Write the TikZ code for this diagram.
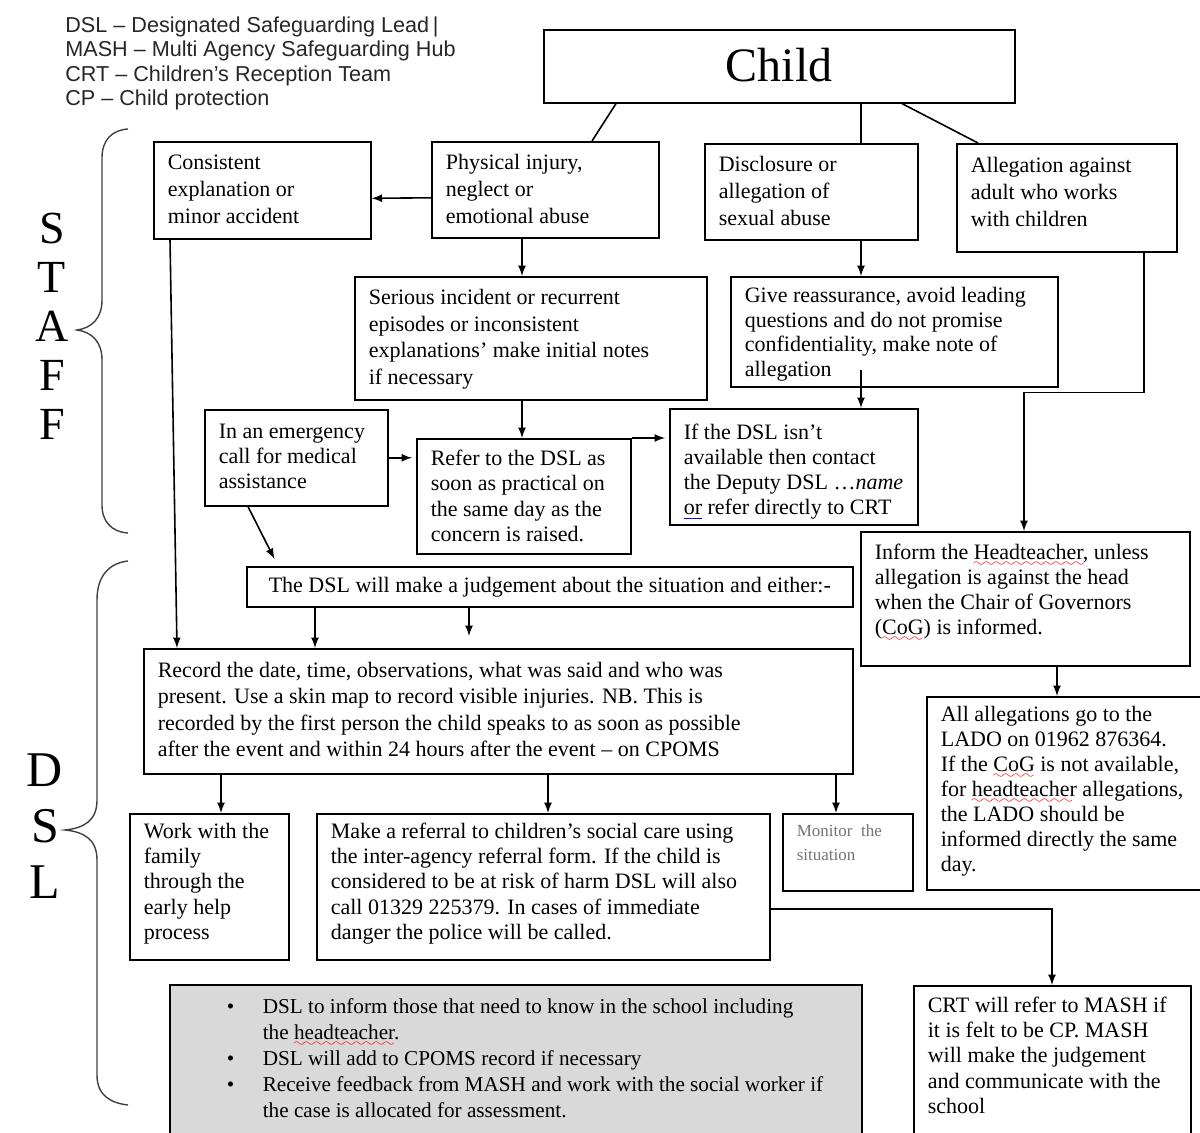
\documentclass[tikz,border=0pt]{standalone}
\usepackage{fontspec}
\setmainfont{Liberation Serif}
\newfontfamily\keyfont{Liberation Sans}

\newcommand{\boxtext}[5][1.5pt]{\parbox[t][#3][t]{#2}{\fontsize{11}{#4}\selectfont\raggedright
    \rule{0pt}{\dimexpr0.7\baselineskip+#1\relax}#5}}
\font\spellfont=lasy6
\newcommand\spellwave[1]{\setbox0\hbox{#1}\leavevmode
    \rlap{\lower3.5pt\hbox to\wd0{\color{red}\leaders\hbox{\spellfont\char58}\hfill}}\box0\relax}
\newcommand\grammarline[1]{\setbox0\hbox{#1}\leavevmode
    \rlap{\color{blue}\rule[-2.5pt]{\wd0}{0.6pt}}\box0\relax}

\begin{document}
\begin{tikzpicture}[x=0.5pt,y=-0.5pt,
    box/.style={draw, line width=0.8pt, anchor=north west, inner xsep=7pt, inner ysep=3pt},
    link/.style={line width=0.8pt},
    arr/.style={->,>=latex, line width=0.8pt},
    brace/.style={line width=0.7pt, black!75}]

    \useasboundingbox (0,0) rectangle (1200,1133);

    % abbreviations
    \node[anchor=north west, align=left, inner sep=0pt,
        font=\keyfont\fontsize{10.8}{12.25}\selectfont, black!85] (key) at (65,16)
        {DSL – Designated Safeguarding Lead\,|\\ MASH – Multi Agency Safeguarding Hub\\
         CRT – Children’s Reception Team\\ CP – Child protection};

    % side labels and braces
    \node[font=\fontsize{23}{24.5}\selectfont, align=center] (staff) at (52,326) {S\\T\\A\\F\\F};
    \node[font=\fontsize{25}{28}\selectfont, align=center] (dsl) at (45,826) {D\\S\\L};
    \draw[brace] (128,129) .. controls (112,130) and (102,140) .. (102,158) -- (102,300)
        .. controls (102,318) and (92,328) .. (77,330) .. controls (92,332) and (102,342) .. (102,360)
        -- (102,505) .. controls (102,522) and (112,532) .. (128,533);
    \draw[brace] (128,561) .. controls (110,563) and (97,575) .. (97,600) -- (97,800)
        .. controls (97,820) and (85,828) .. (65,830) .. controls (85,832) and (97,840) .. (97,860)
        -- (97,1075) .. controls (97,1095) and (110,1103) .. (128,1105);

    % staff boxes
    \node[box, minimum width=235.5pt, minimum height=36.5pt, font=\fontsize{24}{28}\selectfont]
        (child) at (543,29) {\raisebox{1.2pt}{Child}};
    \node[box] (consist) at (153,141) {\boxtext{94.5pt}{42.5pt}{13.5pt}{Consistent\\ explanation or\\ minor accident}};
    \node[box] (phys) at (431,141) {\boxtext{99.5pt}{42pt}{13.5pt}{Physical injury,\\ neglect or\\ emotional abuse}};
    \node[box] (disc) at (704,143) {\boxtext{92.5pt}{42pt}{13.5pt}{Disclosure or\\ allegation of\\ sexual abuse}};
    \node[box] (alleg) at (956,143) {\boxtext[2pt]{96pt}{48pt}{13.5pt}{Allegation against\\ adult who works\\ with children}};
    \node[box] (serious) at (354,276) {\boxtext{162pt}{55.5pt}{13.3pt}{Serious incident or recurrent\\
        episodes or inconsistent\\ explanations’ make initial notes\\ if necessary}};
    \node[box] (give) at (730,276) {\boxtext{149.5pt}{49pt}{12.25pt}{Give reassurance, avoid leading\\
        questions and do not promise\\ confidentiality, make note of\\ allegation}};
    \node[box] (emerg) at (204,409) {\boxtext[2.5pt]{77.5pt}{42pt}{12.5pt}{In an emergency\\ call for medical\\ assistance}};
    \node[box] (refer) at (416,438) {\boxtext{93pt}{51.5pt}{12.7pt}{Refer to the DSL as\\ soon as practical on\\
        the same day as the\\ concern is raised.}};
    \node[box] (ifdsl) at (669,408) {\boxtext[3.5pt]{110pt}{52pt}{12.5pt}{If the DSL isn’t\\ available then contact\\
        the Deputy DSL …\textit{name}\\ \grammarline{or} refer directly to CRT}};
    \node[box] (inform) at (860,531) {\boxtext[2pt]{150.5pt}{61pt}{12.5pt}{Inform the \spellwave{Headteacher,} unless\\
        allegation is against the head\\ when the Chair of Governors\\ (\spellwave{CoG}) is informed.}};

    % DSL boxes
    \node[box, minimum width=303pt, minimum height=20pt, inner xsep=0pt, font=\fontsize{11}{13}\selectfont]
        (judge) at (246,566) {The DSL will make a judgement about the situation and either:-};
    \node[box] (record) at (143,648) {\boxtext[2pt]{340.5pt}{56.5pt}{13.2pt}{Record the date, time, observations, what was said and who was\\
        present. Use a skin map to record visible injuries. NB. This is\\
        recorded by the first person the child speaks to as soon as possible\\
        after the event and within 24 hours after the event – on CPOMS}};
    \node[box] (all) at (926,696) {\boxtext[0.5pt]{131pt}{90.5pt}{12.5pt}{All allegations go to the\\ LADO on 01962 876364.\\
        If the \spellwave{CoG} is not available,\\ for \spellwave{headteacher} allegations,\\ the LADO should be\\
        informed directly the same\\ day.}};
    \node[box] (work) at (129,813) {\boxtext[0.5pt]{65.5pt}{67pt}{12.6pt}{Work with the\\ family\\ through the\\ early help\\ process}};
    \node[box] (make) at (316,813) {\boxtext[0.5pt]{212.5pt}{67pt}{12.6pt}{Make a referral to children’s social care using\\
        the inter-agency referral form. If the child is\\ considered to be at risk of harm DSL will also\\
        call 01329 225379. In cases of immediate\\ danger the police will be called.}};
    \node[box, text=black!55] (monitor) at (782,813) {\parbox[t][32.5pt][t]{51pt}{\fontsize{8.5}{12}\selectfont\raggedright\strut
        Monitor\ \ the\\ situation}};
    \node[box, fill=black!15] (inschool) at (169,984) {\boxtext[2pt]{332pt}{79pt}{13pt}{\fontsize{10.6}{13}\selectfont
        \makebox[39.5pt][l]{\hspace*{21.5pt}\textbullet}DSL to inform those that need to know in the school including\\
        \hspace*{39.5pt}the \spellwave{headteacher.}\\
        \makebox[39.5pt][l]{\hspace*{21.5pt}\textbullet}DSL will add to CPOMS record if necessary\\
        \makebox[39.5pt][l]{\hspace*{21.5pt}\textbullet}Receive feedback from MASH and work with the social worker if\\
        \hspace*{39.5pt}the case is allocated for assessment.}};
    \node[box] (crt) at (913,985) {\boxtext{124.5pt}{79pt}{12.6pt}{CRT will refer to MASH if\\ it is felt to be CP. MASH\\
        will make the judgement\\ and communicate with the\\ school}};

    % connectors
    \draw[link] ([xshift=36.5pt]child.south west) -- ([xshift=80.5pt]phys.north west);
    \draw[link] ([xshift=159pt]child.south west) -- ([xshift=78.5pt]disc.north west);
    \draw[link] ([xshift=179.5pt]child.south west) -- ([xshift=11pt]alleg.north west);
    \draw[arr] ([yshift=-4pt]phys.west) -- ([yshift=-4pt]consist.east);
    \draw[arr] ([xshift=45.5pt]phys.south west) -- ([xshift=84pt]serious.north west);
    \draw[arr] ([xshift=78.5pt]disc.south west) -- ([xshift=65.5pt]give.north west);
    \draw[arr] ([xshift=65.5pt,yshift=9pt]give.south west) -- ([xshift=96pt]ifdsl.north west);
    \draw[arr] ([xshift=94pt]alleg.south west) -- ++(0,140) -| ([xshift=82pt]inform.north west);
    \draw[arr] ([xshift=84pt]serious.south west) -- ([xshift=53pt]refer.north west);
    \draw[arr] (refer.north east) -- ([yshift=-15pt,xshift=-2pt]ifdsl.north west);
    \draw[arr] (emerg.east) -- ([xshift=-2pt]emerg.east -| refer.west);
    \draw[arr, shorten >=4pt] ([xshift=22pt]emerg.south west) -- ([xshift=16pt]judge.north west);
    \draw[arr] ([xshift=8.5pt]consist.south west) -- ([xshift=17pt]record.north west);
    \draw[arr] ([xshift=34.5pt]judge.south west) -- ([xshift=86pt]record.north west);
    \draw[arr, shorten >=6pt] ([xshift=111.5pt]judge.south west) -- ([xshift=163pt]record.north west);
    \draw[arr] ([xshift=39pt]record.south west) -- ([xshift=46pt]work.north west);
    \draw[arr] ([xshift=202.5pt]record.south west) -- ([xshift=116pt]make.north west);
    \draw[arr] ([xshift=346.5pt]record.south west) -- ([xshift=27pt]monitor.north west);
    \draw[arr] ([xshift=98.5pt]inform.south west) -- ([xshift=65.5pt]all.north west);
    \draw[arr] ([yshift=-48pt]make.north east) -| ([xshift=69.5pt]crt.north west);

\end{tikzpicture}
\end{document}
